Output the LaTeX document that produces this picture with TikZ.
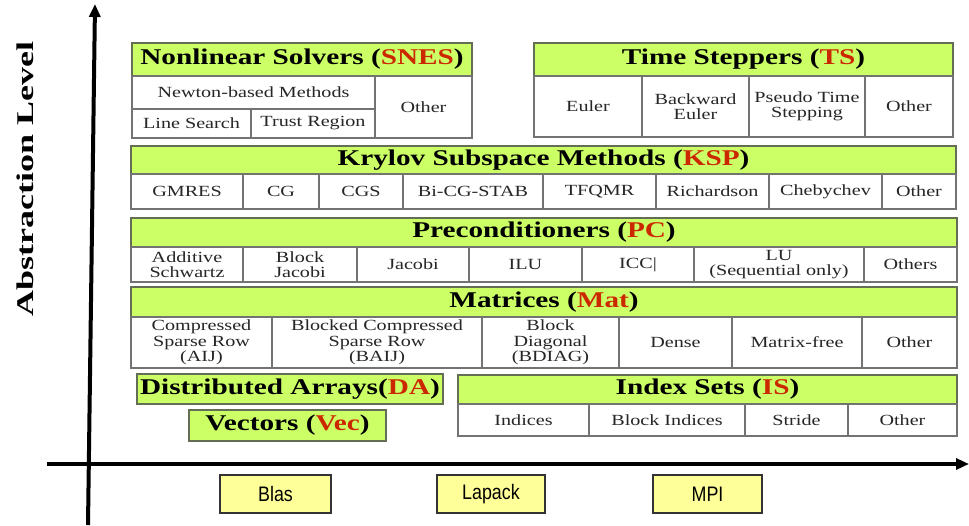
\documentclass[tikz,border=0pt]{standalone}
\usepackage{fontspec}
\usetikzlibrary{arrows.meta}
\newfontfamily\tnr[FakeStretch=1.3]{Liberation Serif}
\newfontfamily\axisfont[FakeStretch=1.5]{Liberation Serif}
\newfontfamily\arial[FakeStretch=0.85]{Liberation Sans}
\definecolor{hdrgreen}{RGB}{204,255,102}
\definecolor{libyellow}{RGB}{255,255,153}
\definecolor{abred}{RGB}{204,40,0}
\definecolor{cellline}{RGB}{115,115,115}
\definecolor{hdrline}{RGB}{100,110,85}
\newcommand{\abbr}[1]{\textcolor{abred}{#1}}
\tikzset{
  hdr/.style={draw=hdrline, fill=hdrgreen, line width=1.3pt, inner sep=0pt,
    font=\tnr\bfseries\fontsize{22.5}{24}\selectfont},
  cell/.style={draw=cellline, fill=white, line width=1.1pt, inner sep=0pt, align=center,
    text=black!85, font=\tnr\fontsize{15.5}{15.5}\selectfont},
  lib/.style={draw=black!80, fill=libyellow, line width=1.5pt, inner sep=0pt,
    minimum height=38, font=\arial\fontsize{21}{21}\selectfont},
  axis/.style={line width=4pt, -{Triangle[length=13pt,width=11pt]}}
}
\begin{document}
\begin{tikzpicture}[x=1pt,y=-1pt]
\useasboundingbox (0,0) rectangle (969,525);
% axes
\coordinate (ybot) at (88,525);
\coordinate (ytop) at (95,4);
\coordinate (xleft) at (47,464);
\coordinate (xright) at (969,464);
\draw[axis] (ybot) -- (ytop);
\draw[axis] (xleft) -- (xright);
\node[rotate=90, font=\axisfont\bfseries\fontsize{24}{24}\selectfont] (ylabel) at (25,179) {Abstraction Level};

% nonlinear solvers
\node[hdr, minimum width=340, minimum height=33] (snes) at (302,59.5) {Nonlinear Solvers (\abbr{SNES})};
\node[cell, minimum width=243, minimum height=33] (newton) at (253.5,92.5) {Newton-based Methods};
\node[cell, minimum width=119, minimum height=29] (linesearch) at (191.5,123.5) {Line Search};
\node[cell, minimum width=124, minimum height=29] (trustregion) at (313,123.5) {Trust Region};
\node[cell, minimum width=97, minimum height=62] (snesother) at (423.5,107) {Other};

% time steppers
\node[hdr, minimum width=419, minimum height=33] (ts) at (743.5,59.5) {Time Steppers (\abbr{TS})};
\foreach \xa/\xb/\txt [count=\i] in {534/642/Euler, 642/749/Backward\\Euler,
    749/865/Pseudo Time\\Stepping, 865/953/Other}
  \node[cell, minimum width=\xb-\xa, minimum height=61] (ts\i) at ({(\xa+\xb)/2},106.5) {\txt};

% krylov
\node[hdr, minimum width=825, minimum height=28] (ksp) at (543.5,160) {Krylov Subspace Methods (\abbr{KSP})};
\foreach \xa/\xb/\txt [count=\i] in {131/243/GMRES, 243/319/CG, 319/403/CGS, 403/543/Bi-CG-STAB,
    543/656/TFQMR, 656/769/Richardson, 769/882/Chebychev, 882/956/Other}
  \node[cell, minimum width=\xb-\xa, minimum height=35] (ksp\i) at ({(\xa+\xb)/2},191.5) {\txt};

% preconditioners
\node[hdr, minimum width=826, minimum height=29] (pc) at (544,232.5) {Preconditioners (\abbr{PC})};
\foreach \xa/\xb/\txt [count=\i] in {131/243/Additive\\Schwartz, 243/357/Block\\Jacobi, 357/469/Jacobi,
    469/582/ILU, 582/694/ICC|, 694/864/LU\\(Sequential only), 864/957/Others}
  \node[cell, minimum width=\xb-\xa, minimum height=35] (pc\i) at ({(\xa+\xb)/2},264.5) {\txt};

% matrices
\node[hdr, minimum width=826, minimum height=30] (mat) at (544,302) {Matrices (\abbr{Mat})};
\foreach \xa/\xb/\txt [count=\i] in {131/272/Compressed\\Sparse Row\\(AIJ),
    272/482/Blocked Compressed\\Sparse Row\\(BAIJ), 482/619/Block\\Diagonal\\(BDIAG),
    619/732/Dense, 732/862/Matrix-free, 862/957/Other}
  \node[cell, minimum width=\xb-\xa, minimum height=51] (mat\i) at ({(\xa+\xb)/2},342.5) {\txt};

% da, vec, index sets
\node[hdr, minimum width=306, minimum height=30] (da) at (290,389) {Distributed Arrays(\abbr{DA})};
\node[hdr, minimum width=197, minimum height=31] (vec) at (287.5,425.5) {Vectors (\abbr{Vec})};
\node[hdr, minimum width=499, minimum height=29] (is) at (707.5,389.5) {Index Sets (\abbr{IS})};
\foreach \xa/\xb/\txt [count=\i] in {458/589/Indices, 589/745/Block Indices, 745/848/Stride, 848/957/Other}
  \node[cell, minimum width=\xb-\xa, minimum height=32] (is\i) at ({(\xa+\xb)/2},420) {\txt};

% libraries
\node[lib, minimum width=111] (blas) at (275.5,494) {Blas};
\node[lib, minimum width=108] (lapack) at (491,494) {Lapack};
\node[lib, minimum width=109] (mpi) at (707.5,494) {MPI};
\end{tikzpicture}
\end{document}
